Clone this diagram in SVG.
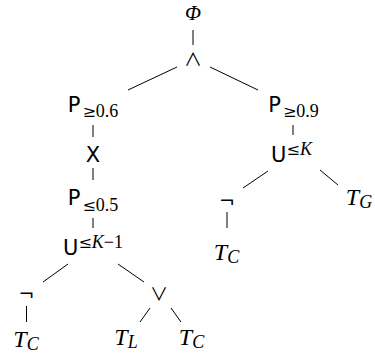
<svg xmlns="http://www.w3.org/2000/svg" width="375" height="354" viewBox="0 0 375 354">
<style>
.sf{font-family:"DejaVu Sans",sans-serif;font-size:21px;fill:#000}
.op{font-family:"Noto Sans CJK SC","DejaVu Sans",sans-serif;font-weight:400;font-size:18px;fill:#000}
.ng{font-family:"DejaVu Sans",sans-serif;font-size:19px;fill:#000}
.rm{font-family:"Liberation Serif","DejaVu Serif",serif;font-size:18px;fill:#000}
.rl{font-family:"DejaVu Serif",serif;font-size:16px;fill:#000}
.it{font-family:"Liberation Serif","DejaVu Serif",serif;font-style:italic;font-size:24px;fill:#000}
.its{font-family:"Liberation Serif","DejaVu Serif",serif;font-style:italic;font-size:18px}
.itm{font-family:"Liberation Serif","DejaVu Serif",serif;font-style:italic;font-size:18px}
.e{stroke:#000;stroke-width:1;fill:none}
</style>
<rect width="375" height="354" fill="#fff"/>
<g id="connectors">
<line class="e" x1="193" y1="30" x2="193" y2="45"/>
<line class="e" x1="177" y1="67" x2="128" y2="90"/>
<line class="e" x1="210" y1="67" x2="258" y2="90"/>
<line class="e" x1="93" y1="125" x2="93" y2="137"/>
<line class="e" x1="93" y1="168" x2="93" y2="180"/>
<line class="e" x1="93" y1="218" x2="93" y2="228"/>
<line class="e" x1="68" y1="264" x2="43" y2="282"/>
<line class="e" x1="118" y1="264" x2="144" y2="282"/>
<line class="e" x1="26.5" y1="306" x2="26.5" y2="322"/>
<line class="e" x1="150" y1="308" x2="140" y2="322"/>
<line class="e" x1="171" y1="308" x2="181" y2="322"/>
<line class="e" x1="293" y1="125" x2="293" y2="135"/>
<line class="e" x1="268" y1="171" x2="243" y2="188"/>
<line class="e" x1="320" y1="170" x2="338" y2="185"/>
<line class="e" x1="227" y1="212" x2="227" y2="228"/>
</g>
<g id="n-phi"><text class="it" x="193" y="20" text-anchor="middle" style="font-size:21px">Φ</text></g>
<g id="n-and"><text class="op" x="193" y="66" text-anchor="middle">∧</text></g>
<g id="n-p06"><text x="93" y="112" text-anchor="middle"><tspan class="sf">P</tspan><tspan class="rl" dx="2" dy="5">≥</tspan><tspan class="rm">0.6</tspan></text></g>
<g id="n-x"><text class="sf" x="93" y="162" text-anchor="middle">X</text></g>
<g id="n-p05"><text x="93" y="205" text-anchor="middle"><tspan class="sf">P</tspan><tspan class="rl" dx="2" dy="6">≤</tspan><tspan class="rm">0.5</tspan></text></g>
<g id="n-u1"><text x="93" y="255" text-anchor="middle"><tspan class="sf">U</tspan><tspan class="rl" dy="-7">≤</tspan><tspan class="itm">K</tspan><tspan class="rm">−1</tspan></text></g>
<g id="n-not1"><text class="ng" x="26.5" y="301" text-anchor="middle">¬</text></g>
<g id="n-or"><text class="op" x="159" y="301" text-anchor="middle">∨</text></g>
<g id="n-tc1"><text x="26" y="347" text-anchor="middle"><tspan class="it">T</tspan><tspan class="its" dy="3">C</tspan></text></g>
<g id="n-tl"><text x="126" y="345" text-anchor="middle"><tspan class="it">T</tspan><tspan class="its" dy="3">L</tspan></text></g>
<g id="n-tc2"><text x="191.5" y="345" text-anchor="middle"><tspan class="it">T</tspan><tspan class="its" dy="3">C</tspan></text></g>
<g id="n-p09"><text x="293.5" y="112" text-anchor="middle"><tspan class="sf">P</tspan><tspan class="rl" dx="2" dy="5">≥</tspan><tspan class="rm">0.9</tspan></text></g>
<g id="n-u2"><text x="291.5" y="162" text-anchor="middle"><tspan class="sf">U</tspan><tspan class="rl" dy="-7">≤</tspan><tspan class="itm">K</tspan></text></g>
<g id="n-not2"><text class="ng" x="227" y="208" text-anchor="middle">¬</text></g>
<g id="n-tc3"><text x="226.5" y="260" text-anchor="middle"><tspan class="it">T</tspan><tspan class="its" dy="3">C</tspan></text></g>
<g id="n-tg"><text x="359" y="205" text-anchor="middle"><tspan class="it">T</tspan><tspan class="its" dy="3">G</tspan></text></g>
</svg>
